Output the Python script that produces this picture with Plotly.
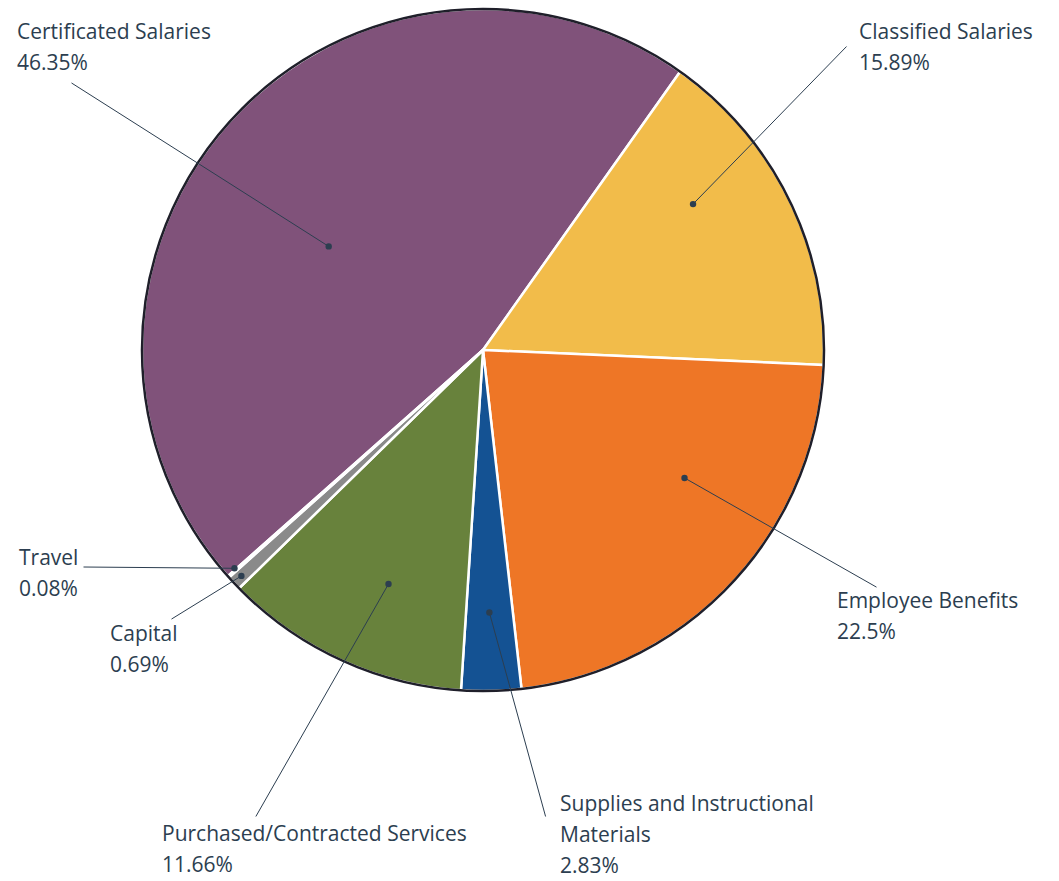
import math
import plotly.graph_objects as go

# ---- data ----
categories = ["Certificated Salaries", "Classified Salaries", "Employee Benefits",
              "Supplies and Instructional Materials", "Purchased/Contracted Services",
              "Capital", "Travel"]
values = [46.35, 15.89, 22.5, 2.83, 11.66, 0.69, 0.08]
pct_labels = ["46.35%", "15.89%", "22.5%", "2.83%", "11.66%", "0.69%", "0.08%"]
label_lines = [["Certificated Salaries"], ["Classified Salaries"], ["Employee Benefits"],
               ["Supplies and Instructional", "Materials"], ["Purchased/Contracted Services"],
               ["Capital"], ["Travel"]]

# ---- style ----
colors = ["#80527a", "#f2bc4a", "#ee7626", "#145293", "#68823c", "#8a8a8a", "#13879a"]
W, H = 1059, 881
CX, CY, R = 483, 350, 341
ROT = 228.45
dot_frac = [0.545, 0.75, 0.70, 0.77, 0.74, 0.97, 0.97]
dot_ang_nudge = [-8, -8.7, -10.6, 0, -2.7, 0, 0.4]
text_pos = [(16, 31), (858, 31), (836, 600), (559, 803), (161, 833), (109, 633), (18, 557)]
tail_pos = [(70, 82), (848, 45), (878, 588), (546, 818), (255, 818), (170, 620), (82, 567)]
LINE_H = 31
TXT = "#2c3e50"
FONT = "Open Sans"
FSIZE = 21

fig = go.Figure(go.Pie(
    labels=categories, values=values, sort=False, direction="clockwise",
    rotation=ROT, textinfo="none", hoverinfo="label+percent",
    marker=dict(colors=colors, line=dict(color="white", width=2.5)),
    domain=dict(x=[(CX - R) / W, (CX + R) / W], y=[1 - (CY + R) / H, 1 - (CY - R) / H]),
    showlegend=False,
))

def px2paper(x, y):
    return x / W, 1 - y / H

annotations = []
total = sum(values)
cum = 0.0
for i, v in enumerate(values):
    mid = ROT + (cum + v / 2) / total * 360 + dot_ang_nudge[i]
    cum += v
    a = math.radians(mid)
    dx = CX + dot_frac[i] * R * math.sin(a)
    dy = CY - dot_frac[i] * R * math.cos(a)
    px, py = px2paper(dx, dy)
    tx, ty = tail_pos[i]
    annotations.append(dict(
        x=px, y=py, xref="paper", yref="paper", text="", showarrow=True,
        ax=tx - dx, ay=ty - dy, axref="pixel", ayref="pixel",
        arrowhead=6, arrowsize=1.6, arrowwidth=1, arrowcolor="#2c3e50",
        standoff=0, startstandoff=0))
    lines = label_lines[i] + [pct_labels[i]]
    x0, y0 = text_pos[i]
    for k, t in enumerate(lines):
        lx, ly = px2paper(x0, y0 + k * LINE_H)
        annotations.append(dict(
            x=lx, y=ly, xref="paper", yref="paper", text=t, showarrow=False,
            xanchor="left", yanchor="middle", borderpad=0,
            font=dict(family=FONT, size=FSIZE, color=TXT)))

fig.update_layout(
    width=W, height=H, margin=dict(l=0, r=0, t=0, b=0),
    paper_bgcolor="white", plot_bgcolor="white",
    annotations=annotations,
    shapes=[dict(type="circle", xref="paper", yref="paper",
                 x0=(CX - R) / W, x1=(CX + R) / W, y0=1 - (CY + R) / H, y1=1 - (CY - R) / H,
                 line=dict(color="#1f1f2a", width=2.5), fillcolor="rgba(0,0,0,0)")],
)

fig.write_html("out.html", config={"displayModeBar": False},
               post_script="document.body.style.margin='0';document.body.style.overflow='hidden';")
